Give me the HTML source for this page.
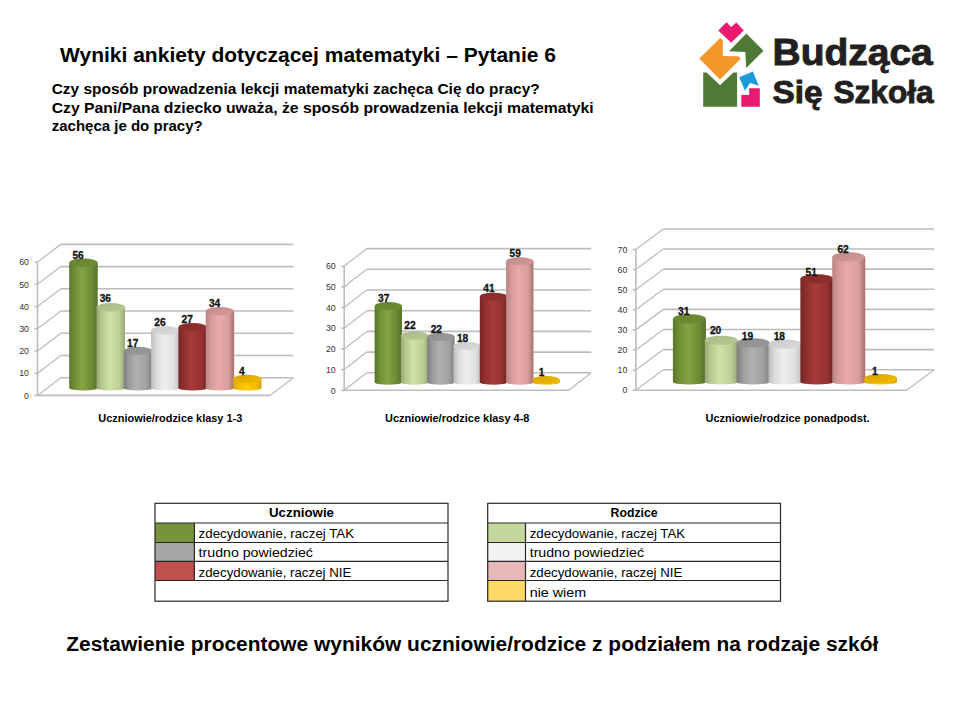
<!DOCTYPE html>
<html><head><meta charset="utf-8"><style>
html,body{margin:0;padding:0;background:#fff;width:960px;height:720px;overflow:hidden}
svg{display:block}
text{font-family:"Liberation Sans", sans-serif}
</style></head><body>
<svg width="960" height="720" viewBox="0 0 960 720">
<defs><linearGradient id="cg_g" x1="0" x2="1" y1="0" y2="0"><stop offset="0" stop-color="#5b7628"/><stop offset="0.18" stop-color="#6f8d34"/><stop offset="0.45" stop-color="#83a344"/><stop offset="0.8" stop-color="#6d8a33"/><stop offset="1" stop-color="#55702a"/></linearGradient><linearGradient id="tg_g" x1="0" x2="1" y1="0" y2="1"><stop offset="0" stop-color="#67822f"/><stop offset="1" stop-color="#6f8d34"/></linearGradient><linearGradient id="cg_lg" x1="0" x2="1" y1="0" y2="0"><stop offset="0" stop-color="#97a877"/><stop offset="0.18" stop-color="#b5c98d"/><stop offset="0.45" stop-color="#cde2a4"/><stop offset="0.8" stop-color="#bccf95"/><stop offset="1" stop-color="#98a97a"/></linearGradient><linearGradient id="tg_lg" x1="0" x2="1" y1="0" y2="1"><stop offset="0" stop-color="#a9ba8a"/><stop offset="1" stop-color="#b5c98d"/></linearGradient><linearGradient id="cg_gr" x1="0" x2="1" y1="0" y2="0"><stop offset="0" stop-color="#7c7c7c"/><stop offset="0.18" stop-color="#9a9a9a"/><stop offset="0.45" stop-color="#b0b0b0"/><stop offset="0.8" stop-color="#a0a0a0"/><stop offset="1" stop-color="#808080"/></linearGradient><linearGradient id="tg_gr" x1="0" x2="1" y1="0" y2="1"><stop offset="0" stop-color="#8e8e8e"/><stop offset="1" stop-color="#9a9a9a"/></linearGradient><linearGradient id="cg_lgr" x1="0" x2="1" y1="0" y2="0"><stop offset="0" stop-color="#bcbcbc"/><stop offset="0.18" stop-color="#dadada"/><stop offset="0.45" stop-color="#eeeeee"/><stop offset="0.8" stop-color="#e0e0e0"/><stop offset="1" stop-color="#c0c0c0"/></linearGradient><linearGradient id="tg_lgr" x1="0" x2="1" y1="0" y2="1"><stop offset="0" stop-color="#cbcbcb"/><stop offset="1" stop-color="#dadada"/></linearGradient><linearGradient id="cg_r" x1="0" x2="1" y1="0" y2="0"><stop offset="0" stop-color="#752423"/><stop offset="0.18" stop-color="#8f302e"/><stop offset="0.45" stop-color="#a63b39"/><stop offset="0.8" stop-color="#953331"/><stop offset="1" stop-color="#722322"/></linearGradient><linearGradient id="tg_r" x1="0" x2="1" y1="0" y2="1"><stop offset="0" stop-color="#872c2a"/><stop offset="1" stop-color="#8f302e"/></linearGradient><linearGradient id="cg_p" x1="0" x2="1" y1="0" y2="0"><stop offset="0" stop-color="#b98383"/><stop offset="0.18" stop-color="#d59999"/><stop offset="0.45" stop-color="#e8a9a8"/><stop offset="0.8" stop-color="#d89e9d"/><stop offset="1" stop-color="#a67070"/></linearGradient><linearGradient id="tg_p" x1="0" x2="1" y1="0" y2="1"><stop offset="0" stop-color="#c08a8a"/><stop offset="1" stop-color="#d59999"/></linearGradient><linearGradient id="cg_y" x1="0" x2="1" y1="0" y2="0"><stop offset="0" stop-color="#d9a600"/><stop offset="0.18" stop-color="#f2bb00"/><stop offset="0.45" stop-color="#ffc800"/><stop offset="0.8" stop-color="#f5be00"/><stop offset="1" stop-color="#d8a200"/></linearGradient><linearGradient id="tg_y" x1="0" x2="1" y1="0" y2="1"><stop offset="0" stop-color="#d9a300"/><stop offset="1" stop-color="#f2bb00"/></linearGradient></defs>
<rect width="960" height="720" fill="#fff"/>
<text x="60" y="61.7" font-size="21" font-weight="bold" fill="#000" text-anchor="start" textLength="496" lengthAdjust="spacingAndGlyphs">Wyniki ankiety dotyczącej matematyki – Pytanie 6</text>
<text x="51.7" y="93.8" font-size="14.2" font-weight="bold" fill="#000" text-anchor="start" textLength="488" lengthAdjust="spacingAndGlyphs">Czy sposób prowadzenia lekcji matematyki zachęca Cię do pracy?</text>
<text x="51.7" y="112.6" font-size="14.2" font-weight="bold" fill="#000" text-anchor="start" textLength="542" lengthAdjust="spacingAndGlyphs">Czy Pani/Pana dziecko uważa, że sposób prowadzenia lekcji matematyki</text>
<text x="51.7" y="131.2" font-size="14.2" font-weight="bold" fill="#000" text-anchor="start" textLength="151" lengthAdjust="spacingAndGlyphs">zachęca je do pracy?</text>
<line x1="37.5" y1="395.40" x2="60.80" y2="377.70" stroke="#bdbdbd" stroke-width="1.3"/>
<line x1="60.80" y1="377.70" x2="293.30" y2="377.70" stroke="#bdbdbd" stroke-width="1.6"/>
<line x1="34.5" y1="395.40" x2="37.5" y2="395.40" stroke="#bdbdbd" stroke-width="1.6"/>
<text x="29.00" y="398.60" text-anchor="end" font-size="8.8" fill="#333">0</text>
<line x1="37.5" y1="373.18" x2="60.80" y2="355.48" stroke="#bdbdbd" stroke-width="1.3"/>
<line x1="60.80" y1="355.48" x2="293.30" y2="355.48" stroke="#bdbdbd" stroke-width="1.6"/>
<line x1="34.5" y1="373.18" x2="37.5" y2="373.18" stroke="#bdbdbd" stroke-width="1.6"/>
<text x="29.00" y="376.38" text-anchor="end" font-size="8.8" fill="#333">10</text>
<line x1="37.5" y1="350.96" x2="60.80" y2="333.26" stroke="#bdbdbd" stroke-width="1.3"/>
<line x1="60.80" y1="333.26" x2="293.30" y2="333.26" stroke="#bdbdbd" stroke-width="1.6"/>
<line x1="34.5" y1="350.96" x2="37.5" y2="350.96" stroke="#bdbdbd" stroke-width="1.6"/>
<text x="29.00" y="354.16" text-anchor="end" font-size="8.8" fill="#333">20</text>
<line x1="37.5" y1="328.74" x2="60.80" y2="311.04" stroke="#bdbdbd" stroke-width="1.3"/>
<line x1="60.80" y1="311.04" x2="293.30" y2="311.04" stroke="#bdbdbd" stroke-width="1.6"/>
<line x1="34.5" y1="328.74" x2="37.5" y2="328.74" stroke="#bdbdbd" stroke-width="1.6"/>
<text x="29.00" y="331.94" text-anchor="end" font-size="8.8" fill="#333">30</text>
<line x1="37.5" y1="306.52" x2="60.80" y2="288.82" stroke="#bdbdbd" stroke-width="1.3"/>
<line x1="60.80" y1="288.82" x2="293.30" y2="288.82" stroke="#bdbdbd" stroke-width="1.6"/>
<line x1="34.5" y1="306.52" x2="37.5" y2="306.52" stroke="#bdbdbd" stroke-width="1.6"/>
<text x="29.00" y="309.72" text-anchor="end" font-size="8.8" fill="#333">40</text>
<line x1="37.5" y1="284.30" x2="60.80" y2="266.60" stroke="#bdbdbd" stroke-width="1.3"/>
<line x1="60.80" y1="266.60" x2="293.30" y2="266.60" stroke="#bdbdbd" stroke-width="1.6"/>
<line x1="34.5" y1="284.30" x2="37.5" y2="284.30" stroke="#bdbdbd" stroke-width="1.6"/>
<text x="29.00" y="287.50" text-anchor="end" font-size="8.8" fill="#333">50</text>
<line x1="37.5" y1="262.08" x2="60.80" y2="244.38" stroke="#bdbdbd" stroke-width="1.3"/>
<line x1="60.80" y1="244.38" x2="293.30" y2="244.38" stroke="#bdbdbd" stroke-width="1.6"/>
<line x1="34.5" y1="262.08" x2="37.5" y2="262.08" stroke="#bdbdbd" stroke-width="1.6"/>
<text x="29.00" y="265.28" text-anchor="end" font-size="8.8" fill="#333">60</text>
<line x1="37.5" y1="395.90" x2="37.5" y2="262.08" stroke="#bdbdbd" stroke-width="1.6"/>
<line x1="37.5" y1="395.40" x2="270" y2="395.40" stroke="#bdbdbd" stroke-width="1.6"/>
<line x1="270" y1="395.40" x2="293.30" y2="377.70" stroke="#bdbdbd" stroke-width="1.3"/>
<path d="M69.20,262.70 L69.20,388.00 A14.25,2.6 0 0 0 97.70,388.00 L97.70,262.70 Z" fill="url(#cg_g)"/>
<ellipse cx="83.45" cy="262.70" rx="14.25" ry="4.2" fill="url(#tg_g)"/>
<text x="78.05" y="258.70" text-anchor="middle" font-size="10.2" font-weight="bold" fill="#111" stroke="#111" stroke-width="0.3">56</text>
<path d="M96.50,307.30 L96.50,388.00 A14.25,2.6 0 0 0 125.00,388.00 L125.00,307.30 Z" fill="url(#cg_lg)"/>
<ellipse cx="110.75" cy="307.30" rx="14.25" ry="4.2" fill="url(#tg_lg)"/>
<text x="105.35" y="301.50" text-anchor="middle" font-size="10.2" font-weight="bold" fill="#111" stroke="#111" stroke-width="0.3">36</text>
<path d="M123.80,350.90 L123.80,388.00 A14.25,2.6 0 0 0 152.30,388.00 L152.30,350.90 Z" fill="url(#cg_gr)"/>
<ellipse cx="138.05" cy="350.90" rx="14.25" ry="4.2" fill="url(#tg_gr)"/>
<text x="132.65" y="346.90" text-anchor="middle" font-size="10.2" font-weight="bold" fill="#111" stroke="#111" stroke-width="0.3">17</text>
<path d="M151.10,330.50 L151.10,388.00 A14.25,2.6 0 0 0 179.60,388.00 L179.60,330.50 Z" fill="url(#cg_lgr)"/>
<ellipse cx="165.35" cy="330.50" rx="14.25" ry="4.2" fill="url(#tg_lgr)"/>
<text x="159.95" y="326.20" text-anchor="middle" font-size="10.2" font-weight="bold" fill="#111" stroke="#111" stroke-width="0.3">26</text>
<path d="M178.40,327.30 L178.40,388.00 A14.25,2.6 0 0 0 206.90,388.00 L206.90,327.30 Z" fill="url(#cg_r)"/>
<ellipse cx="192.65" cy="327.30" rx="14.25" ry="4.2" fill="url(#tg_r)"/>
<text x="187.25" y="322.95" text-anchor="middle" font-size="10.2" font-weight="bold" fill="#111" stroke="#111" stroke-width="0.3">27</text>
<path d="M205.70,311.10 L205.70,388.00 A14.25,2.6 0 0 0 234.20,388.00 L234.20,311.10 Z" fill="url(#cg_p)"/>
<ellipse cx="219.95" cy="311.10" rx="14.25" ry="4.2" fill="url(#tg_p)"/>
<text x="214.55" y="306.70" text-anchor="middle" font-size="10.2" font-weight="bold" fill="#111" stroke="#111" stroke-width="0.3">34</text>
<path d="M233.00,378.95 L233.00,388.00 A14.25,2.6 0 0 0 261.50,388.00 L261.50,378.95 Z" fill="url(#cg_y)"/>
<ellipse cx="247.25" cy="378.95" rx="14.25" ry="4.2" fill="url(#tg_y)"/>
<text x="241.85" y="374.60" text-anchor="middle" font-size="10.2" font-weight="bold" fill="#111" stroke="#111" stroke-width="0.3">4</text>
<line x1="344.2" y1="390.30" x2="366.70" y2="372.80" stroke="#bdbdbd" stroke-width="1.3"/>
<line x1="366.70" y1="372.80" x2="591.25" y2="372.80" stroke="#bdbdbd" stroke-width="1.6"/>
<line x1="341.2" y1="390.30" x2="344.2" y2="390.30" stroke="#bdbdbd" stroke-width="1.6"/>
<text x="335.70" y="393.50" text-anchor="end" font-size="8.8" fill="#333">0</text>
<line x1="344.2" y1="369.60" x2="366.70" y2="352.10" stroke="#bdbdbd" stroke-width="1.3"/>
<line x1="366.70" y1="352.10" x2="591.25" y2="352.10" stroke="#bdbdbd" stroke-width="1.6"/>
<line x1="341.2" y1="369.60" x2="344.2" y2="369.60" stroke="#bdbdbd" stroke-width="1.6"/>
<text x="335.70" y="372.80" text-anchor="end" font-size="8.8" fill="#333">10</text>
<line x1="344.2" y1="348.90" x2="366.70" y2="331.40" stroke="#bdbdbd" stroke-width="1.3"/>
<line x1="366.70" y1="331.40" x2="591.25" y2="331.40" stroke="#bdbdbd" stroke-width="1.6"/>
<line x1="341.2" y1="348.90" x2="344.2" y2="348.90" stroke="#bdbdbd" stroke-width="1.6"/>
<text x="335.70" y="352.10" text-anchor="end" font-size="8.8" fill="#333">20</text>
<line x1="344.2" y1="328.20" x2="366.70" y2="310.70" stroke="#bdbdbd" stroke-width="1.3"/>
<line x1="366.70" y1="310.70" x2="591.25" y2="310.70" stroke="#bdbdbd" stroke-width="1.6"/>
<line x1="341.2" y1="328.20" x2="344.2" y2="328.20" stroke="#bdbdbd" stroke-width="1.6"/>
<text x="335.70" y="331.40" text-anchor="end" font-size="8.8" fill="#333">30</text>
<line x1="344.2" y1="307.50" x2="366.70" y2="290.00" stroke="#bdbdbd" stroke-width="1.3"/>
<line x1="366.70" y1="290.00" x2="591.25" y2="290.00" stroke="#bdbdbd" stroke-width="1.6"/>
<line x1="341.2" y1="307.50" x2="344.2" y2="307.50" stroke="#bdbdbd" stroke-width="1.6"/>
<text x="335.70" y="310.70" text-anchor="end" font-size="8.8" fill="#333">40</text>
<line x1="344.2" y1="286.80" x2="366.70" y2="269.30" stroke="#bdbdbd" stroke-width="1.3"/>
<line x1="366.70" y1="269.30" x2="591.25" y2="269.30" stroke="#bdbdbd" stroke-width="1.6"/>
<line x1="341.2" y1="286.80" x2="344.2" y2="286.80" stroke="#bdbdbd" stroke-width="1.6"/>
<text x="335.70" y="290.00" text-anchor="end" font-size="8.8" fill="#333">50</text>
<line x1="344.2" y1="266.10" x2="366.70" y2="248.60" stroke="#bdbdbd" stroke-width="1.3"/>
<line x1="366.70" y1="248.60" x2="591.25" y2="248.60" stroke="#bdbdbd" stroke-width="1.6"/>
<line x1="341.2" y1="266.10" x2="344.2" y2="266.10" stroke="#bdbdbd" stroke-width="1.6"/>
<text x="335.70" y="269.30" text-anchor="end" font-size="8.8" fill="#333">60</text>
<line x1="344.2" y1="390.80" x2="344.2" y2="266.10" stroke="#bdbdbd" stroke-width="1.6"/>
<line x1="344.2" y1="390.30" x2="568.75" y2="390.30" stroke="#bdbdbd" stroke-width="1.6"/>
<line x1="568.75" y1="390.30" x2="591.25" y2="372.80" stroke="#bdbdbd" stroke-width="1.3"/>
<path d="M374.60,306.10 L374.60,382.20 A13.70,2.6 0 0 0 402.00,382.20 L402.00,306.10 Z" fill="url(#cg_g)"/>
<ellipse cx="388.30" cy="306.10" rx="13.70" ry="4.0" fill="url(#tg_g)"/>
<text x="383.70" y="301.90" text-anchor="middle" font-size="10.2" font-weight="bold" fill="#111" stroke="#111" stroke-width="0.3">37</text>
<path d="M400.90,335.70 L400.90,382.20 A13.70,2.6 0 0 0 428.30,382.20 L428.30,335.70 Z" fill="url(#cg_lg)"/>
<ellipse cx="414.60" cy="335.70" rx="13.70" ry="4.0" fill="url(#tg_lg)"/>
<text x="410.00" y="329.40" text-anchor="middle" font-size="10.2" font-weight="bold" fill="#111" stroke="#111" stroke-width="0.3">22</text>
<path d="M427.20,336.90 L427.20,382.20 A13.70,2.6 0 0 0 454.60,382.20 L454.60,336.90 Z" fill="url(#cg_gr)"/>
<ellipse cx="440.90" cy="336.90" rx="13.70" ry="4.0" fill="url(#tg_gr)"/>
<text x="436.30" y="332.70" text-anchor="middle" font-size="10.2" font-weight="bold" fill="#111" stroke="#111" stroke-width="0.3">22</text>
<path d="M453.50,346.10 L453.50,382.20 A13.70,2.6 0 0 0 480.90,382.20 L480.90,346.10 Z" fill="url(#cg_lgr)"/>
<ellipse cx="467.20" cy="346.10" rx="13.70" ry="4.0" fill="url(#tg_lgr)"/>
<text x="462.60" y="341.90" text-anchor="middle" font-size="10.2" font-weight="bold" fill="#111" stroke="#111" stroke-width="0.3">18</text>
<path d="M479.80,296.70 L479.80,382.20 A13.70,2.6 0 0 0 507.20,382.20 L507.20,296.70 Z" fill="url(#cg_r)"/>
<ellipse cx="493.50" cy="296.70" rx="13.70" ry="4.0" fill="url(#tg_r)"/>
<text x="488.90" y="292.40" text-anchor="middle" font-size="10.2" font-weight="bold" fill="#111" stroke="#111" stroke-width="0.3">41</text>
<path d="M506.10,261.30 L506.10,382.20 A13.70,2.6 0 0 0 533.50,382.20 L533.50,261.30 Z" fill="url(#cg_p)"/>
<ellipse cx="519.80" cy="261.30" rx="13.70" ry="4.0" fill="url(#tg_p)"/>
<text x="515.20" y="257.00" text-anchor="middle" font-size="10.2" font-weight="bold" fill="#111" stroke="#111" stroke-width="0.3">59</text>
<path d="M532.40,380.00 L532.40,382.20 A13.70,2.6 0 0 0 559.80,382.20 L559.80,380.00 Z" fill="url(#cg_y)"/>
<ellipse cx="546.10" cy="380.00" rx="13.70" ry="4.0" fill="url(#tg_y)"/>
<text x="541.50" y="375.70" text-anchor="middle" font-size="10.2" font-weight="bold" fill="#111" stroke="#111" stroke-width="0.3">1</text>
<line x1="635.8" y1="390.20" x2="663.30" y2="369.70" stroke="#bdbdbd" stroke-width="1.3"/>
<line x1="663.30" y1="369.70" x2="934.20" y2="369.70" stroke="#bdbdbd" stroke-width="1.6"/>
<line x1="632.8" y1="390.20" x2="635.8" y2="390.20" stroke="#bdbdbd" stroke-width="1.6"/>
<text x="627.30" y="393.40" text-anchor="end" font-size="8.8" fill="#333">0</text>
<line x1="635.8" y1="370.09" x2="663.30" y2="349.59" stroke="#bdbdbd" stroke-width="1.3"/>
<line x1="663.30" y1="349.59" x2="934.20" y2="349.59" stroke="#bdbdbd" stroke-width="1.6"/>
<line x1="632.8" y1="370.09" x2="635.8" y2="370.09" stroke="#bdbdbd" stroke-width="1.6"/>
<text x="627.30" y="373.29" text-anchor="end" font-size="8.8" fill="#333">10</text>
<line x1="635.8" y1="349.98" x2="663.30" y2="329.48" stroke="#bdbdbd" stroke-width="1.3"/>
<line x1="663.30" y1="329.48" x2="934.20" y2="329.48" stroke="#bdbdbd" stroke-width="1.6"/>
<line x1="632.8" y1="349.98" x2="635.8" y2="349.98" stroke="#bdbdbd" stroke-width="1.6"/>
<text x="627.30" y="353.18" text-anchor="end" font-size="8.8" fill="#333">20</text>
<line x1="635.8" y1="329.87" x2="663.30" y2="309.37" stroke="#bdbdbd" stroke-width="1.3"/>
<line x1="663.30" y1="309.37" x2="934.20" y2="309.37" stroke="#bdbdbd" stroke-width="1.6"/>
<line x1="632.8" y1="329.87" x2="635.8" y2="329.87" stroke="#bdbdbd" stroke-width="1.6"/>
<text x="627.30" y="333.07" text-anchor="end" font-size="8.8" fill="#333">30</text>
<line x1="635.8" y1="309.76" x2="663.30" y2="289.26" stroke="#bdbdbd" stroke-width="1.3"/>
<line x1="663.30" y1="289.26" x2="934.20" y2="289.26" stroke="#bdbdbd" stroke-width="1.6"/>
<line x1="632.8" y1="309.76" x2="635.8" y2="309.76" stroke="#bdbdbd" stroke-width="1.6"/>
<text x="627.30" y="312.96" text-anchor="end" font-size="8.8" fill="#333">40</text>
<line x1="635.8" y1="289.65" x2="663.30" y2="269.15" stroke="#bdbdbd" stroke-width="1.3"/>
<line x1="663.30" y1="269.15" x2="934.20" y2="269.15" stroke="#bdbdbd" stroke-width="1.6"/>
<line x1="632.8" y1="289.65" x2="635.8" y2="289.65" stroke="#bdbdbd" stroke-width="1.6"/>
<text x="627.30" y="292.85" text-anchor="end" font-size="8.8" fill="#333">50</text>
<line x1="635.8" y1="269.54" x2="663.30" y2="249.04" stroke="#bdbdbd" stroke-width="1.3"/>
<line x1="663.30" y1="249.04" x2="934.20" y2="249.04" stroke="#bdbdbd" stroke-width="1.6"/>
<line x1="632.8" y1="269.54" x2="635.8" y2="269.54" stroke="#bdbdbd" stroke-width="1.6"/>
<text x="627.30" y="272.74" text-anchor="end" font-size="8.8" fill="#333">60</text>
<line x1="635.8" y1="249.43" x2="663.30" y2="228.93" stroke="#bdbdbd" stroke-width="1.3"/>
<line x1="663.30" y1="228.93" x2="934.20" y2="228.93" stroke="#bdbdbd" stroke-width="1.6"/>
<line x1="632.8" y1="249.43" x2="635.8" y2="249.43" stroke="#bdbdbd" stroke-width="1.6"/>
<text x="627.30" y="252.63" text-anchor="end" font-size="8.8" fill="#333">70</text>
<line x1="635.8" y1="390.70" x2="635.8" y2="249.43" stroke="#bdbdbd" stroke-width="1.6"/>
<line x1="635.8" y1="390.20" x2="906.7" y2="390.20" stroke="#bdbdbd" stroke-width="1.6"/>
<line x1="906.7" y1="390.20" x2="934.20" y2="369.70" stroke="#bdbdbd" stroke-width="1.3"/>
<path d="M672.90,318.90 L672.90,381.90 A16.50,2.6 0 0 0 705.90,381.90 L705.90,318.90 Z" fill="url(#cg_g)"/>
<ellipse cx="689.40" cy="318.90" rx="16.50" ry="4.7" fill="url(#tg_g)"/>
<text x="683.70" y="315.20" text-anchor="middle" font-size="10.2" font-weight="bold" fill="#111" stroke="#111" stroke-width="0.3">31</text>
<path d="M704.77,340.40 L704.77,381.90 A16.50,2.6 0 0 0 737.77,381.90 L737.77,340.40 Z" fill="url(#cg_lg)"/>
<ellipse cx="721.27" cy="340.40" rx="16.50" ry="4.7" fill="url(#tg_lg)"/>
<text x="715.57" y="334.00" text-anchor="middle" font-size="10.2" font-weight="bold" fill="#111" stroke="#111" stroke-width="0.3">20</text>
<path d="M736.64,342.90 L736.64,381.90 A16.50,2.6 0 0 0 769.64,381.90 L769.64,342.90 Z" fill="url(#cg_gr)"/>
<ellipse cx="753.14" cy="342.90" rx="16.50" ry="4.7" fill="url(#tg_gr)"/>
<text x="747.44" y="339.60" text-anchor="middle" font-size="10.2" font-weight="bold" fill="#111" stroke="#111" stroke-width="0.3">19</text>
<path d="M768.51,344.10 L768.51,381.90 A16.50,2.6 0 0 0 801.51,381.90 L801.51,344.10 Z" fill="url(#cg_lgr)"/>
<ellipse cx="785.01" cy="344.10" rx="16.50" ry="4.7" fill="url(#tg_lgr)"/>
<text x="779.31" y="339.90" text-anchor="middle" font-size="10.2" font-weight="bold" fill="#111" stroke="#111" stroke-width="0.3">18</text>
<path d="M800.38,278.90 L800.38,381.90 A16.50,2.6 0 0 0 833.38,381.90 L833.38,278.90 Z" fill="url(#cg_r)"/>
<ellipse cx="816.88" cy="278.90" rx="16.50" ry="4.7" fill="url(#tg_r)"/>
<text x="811.18" y="275.60" text-anchor="middle" font-size="10.2" font-weight="bold" fill="#111" stroke="#111" stroke-width="0.3">51</text>
<path d="M832.25,257.00 L832.25,381.90 A16.50,2.6 0 0 0 865.25,381.90 L865.25,257.00 Z" fill="url(#cg_p)"/>
<ellipse cx="848.75" cy="257.00" rx="16.50" ry="4.7" fill="url(#tg_p)"/>
<text x="843.05" y="253.20" text-anchor="middle" font-size="10.2" font-weight="bold" fill="#111" stroke="#111" stroke-width="0.3">62</text>
<path d="M864.12,378.60 L864.12,381.90 A16.50,2.6 0 0 0 897.12,381.90 L897.12,378.60 Z" fill="url(#cg_y)"/>
<ellipse cx="880.62" cy="378.60" rx="16.50" ry="4.7" fill="url(#tg_y)"/>
<text x="874.92" y="375.10" text-anchor="middle" font-size="10.2" font-weight="bold" fill="#111" stroke="#111" stroke-width="0.3">1</text>
<text x="98.3" y="421.9" font-size="10.5" font-weight="bold" fill="#000" text-anchor="start" textLength="144" lengthAdjust="spacingAndGlyphs">Uczniowie/rodzice klasy 1-3</text>
<text x="385" y="421.9" font-size="10.5" font-weight="bold" fill="#000" text-anchor="start" textLength="144.4" lengthAdjust="spacingAndGlyphs">Uczniowie/rodzice klasy 4-8</text>
<text x="705.6" y="421.9" font-size="10.5" font-weight="bold" fill="#000" text-anchor="start" textLength="164" lengthAdjust="spacingAndGlyphs">Uczniowie/rodzice ponadpodst.</text>
<rect x="155" y="503.3" width="293" height="97.90000000000003" fill="#fff"/>
<rect x="155" y="523" width="39.400000000000006" height="19.5" fill="#77933c"/>
<text x="198.6" y="537.7" font-size="13" font-weight="normal" fill="#000" text-anchor="start" textLength="155.5" lengthAdjust="spacingAndGlyphs">zdecydowanie, raczej TAK</text>
<rect x="155" y="542.5" width="39.400000000000006" height="18.899999999999977" fill="#a6a6a6"/>
<text x="198.6" y="557.4" font-size="13" font-weight="normal" fill="#000" text-anchor="start" textLength="114.3" lengthAdjust="spacingAndGlyphs">trudno powiedzieć</text>
<rect x="155" y="561.4" width="39.400000000000006" height="19.100000000000023" fill="#c0504d"/>
<text x="198.6" y="576.7" font-size="13" font-weight="normal" fill="#000" text-anchor="start" textLength="152.7" lengthAdjust="spacingAndGlyphs">zdecydowanie, raczej NIE</text>
<line x1="155" y1="523" x2="448" y2="523" stroke="#262626" stroke-width="1.2"/>
<line x1="155" y1="542.5" x2="448" y2="542.5" stroke="#262626" stroke-width="1.2"/>
<line x1="155" y1="561.4" x2="448" y2="561.4" stroke="#262626" stroke-width="1.2"/>
<line x1="155" y1="580.5" x2="448" y2="580.5" stroke="#262626" stroke-width="1.2"/>
<line x1="194.4" y1="523" x2="194.4" y2="580.5" stroke="#262626" stroke-width="1.2"/>
<rect x="155" y="503.3" width="293" height="97.90000000000003" fill="none" stroke="#262626" stroke-width="1.2"/>
<text x="301.5" y="517.3" font-size="12.4" font-weight="bold" fill="#000" text-anchor="middle" textLength="65" lengthAdjust="spacingAndGlyphs">Uczniowie</text>
<rect x="487.7" y="503.3" width="292.8" height="97.90000000000003" fill="#fff"/>
<rect x="487.7" y="523" width="37.80000000000001" height="19.5" fill="#c3d69b"/>
<text x="529.7" y="537.7" font-size="13" font-weight="normal" fill="#000" text-anchor="start" textLength="155.5" lengthAdjust="spacingAndGlyphs">zdecydowanie, raczej TAK</text>
<rect x="487.7" y="542.5" width="37.80000000000001" height="18.899999999999977" fill="#f2f2f2"/>
<text x="529.7" y="557.4" font-size="13" font-weight="normal" fill="#000" text-anchor="start" textLength="114.3" lengthAdjust="spacingAndGlyphs">trudno powiedzieć</text>
<rect x="487.7" y="561.4" width="37.80000000000001" height="19.100000000000023" fill="#e6b9b8"/>
<text x="529.7" y="576.7" font-size="13" font-weight="normal" fill="#000" text-anchor="start" textLength="152.7" lengthAdjust="spacingAndGlyphs">zdecydowanie, raczej NIE</text>
<rect x="487.7" y="580.5" width="37.80000000000001" height="20.700000000000045" fill="#ffd966"/>
<text x="529.7" y="597.0" font-size="13" font-weight="normal" fill="#000" text-anchor="start" textLength="56.5" lengthAdjust="spacingAndGlyphs">nie wiem</text>
<line x1="487.7" y1="523" x2="780.5" y2="523" stroke="#262626" stroke-width="1.2"/>
<line x1="487.7" y1="542.5" x2="780.5" y2="542.5" stroke="#262626" stroke-width="1.2"/>
<line x1="487.7" y1="561.4" x2="780.5" y2="561.4" stroke="#262626" stroke-width="1.2"/>
<line x1="487.7" y1="580.5" x2="780.5" y2="580.5" stroke="#262626" stroke-width="1.2"/>
<line x1="525.5" y1="523" x2="525.5" y2="601.2" stroke="#262626" stroke-width="1.2"/>
<rect x="487.7" y="503.3" width="292.8" height="97.90000000000003" fill="none" stroke="#262626" stroke-width="1.2"/>
<text x="634.1" y="517.3" font-size="12.4" font-weight="bold" fill="#000" text-anchor="middle" textLength="47" lengthAdjust="spacingAndGlyphs">Rodzice</text>
<text x="66.25" y="650.5" font-size="19.5" font-weight="bold" fill="#000" text-anchor="start" textLength="812" lengthAdjust="spacingAndGlyphs">Zestawienie procentowe wyników uczniowie/rodzice z podziałem na rodzaje szkół</text>

<polygon points="718.3,30.4 726.5,22.2 731.2,27.1 736.3,22.4 743.7,30.4 731.1,42.8" fill="#e8196f"/>
<polygon points="699.3,58.5 720.2,38 722.8,40.3 722.8,55.9 738.4,56.2 740.9,58.5 720,79.6" fill="#f4962a"/>
<polygon points="746.4,33.6 763.5,50.8 746.2,68 745.3,52 728.9,51.3" fill="#4f7a35"/>
<polygon points="703.2,72.5 706.6,72.5 720,85.2 733.5,72.5 737.1,72.5 737.1,106.7 703.2,106.7" fill="#4f7a35"/>
<polygon points="739.2,77.2 752.9,71.6 758.8,85.8 750,82.9 745,90.8" fill="#1e9ad6"/>
<polygon points="741.3,95 749.2,95 749.2,88.3 759.8,88.3 759.8,106.7 741.3,106.7" fill="#e8196f"/>

<text x="772.5" y="65.3" font-size="36.5" font-weight="bold" fill="#231f20" stroke="#231f20" stroke-width="0.9" textLength="160.3" lengthAdjust="spacingAndGlyphs">Budząca</text>
<text x="772.5" y="102.7" font-size="31" font-weight="bold" fill="#231f20" stroke="#231f20" stroke-width="0.9" textLength="50" lengthAdjust="spacingAndGlyphs">Się</text>
<text x="833.4" y="102.7" font-size="31" font-weight="bold" fill="#231f20" stroke="#231f20" stroke-width="0.9" textLength="100.3" lengthAdjust="spacingAndGlyphs">Szkoła</text>
</svg>
</body></html>
